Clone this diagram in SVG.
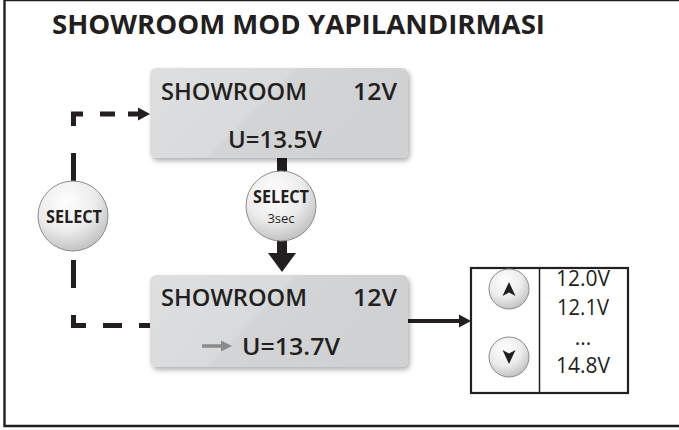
<svg xmlns="http://www.w3.org/2000/svg" width="679" height="430" viewBox="0 0 679 430">
<defs>
<linearGradient id="lcd" x1="0" y1="0" x2="1" y2="0.35">
<stop offset="0" stop-color="#dedfe0"/>
<stop offset="0.5" stop-color="#d9dadb"/>
<stop offset="0.52" stop-color="#d3d4d6"/>
<stop offset="1" stop-color="#d0d1d3"/>
</linearGradient>
<radialGradient id="btn" cx="0.4" cy="0.3" r="0.75">
<stop offset="0" stop-color="#ffffff"/>
<stop offset="0.55" stop-color="#ececec"/>
<stop offset="1" stop-color="#bdbdbd"/>
</radialGradient>
<filter id="sh" x="-10%" y="-10%" width="125%" height="135%">
<feDropShadow dx="2" dy="3" stdDeviation="2.5" flood-color="#000" flood-opacity="0.3"/>
</filter>
</defs>
<style>
.t{font-family:"Open Sans","Noto Sans","DejaVu Sans",sans-serif;fill:#231f20}
.s{font-weight:600}
.b{font-weight:bold}
.lcd{fill:url(#lcd);filter:url(#sh)}
.btn{fill:url(#btn);stroke:#8c8c8c;stroke-width:1}
.dash{fill:none;stroke:#231f20;stroke-width:5}
</style>
<path d="M681 0 H4.5 V426 H681" fill="none" stroke="#231f20" stroke-width="2.4"/>
<text class="t b" x="52" y="34" font-size="26" textLength="493" lengthAdjust="spacingAndGlyphs">SHOWROOM MOD YAPILANDIRMASI</text>

<g id="connectors">
<path class="dash" d="M73.5 126 V114 H83"/>
<path class="dash" d="M100 114 H115"/>
<path class="dash" d="M128 114 H140"/>
<path d="M138 107.5 L150 114 L138 120.5 Z" fill="#231f20"/>
<path class="dash" d="M73.5 153 V181"/>
<path class="dash" d="M73.5 260 V288"/>
<path class="dash" d="M73.5 315 V325.5 H86"/>
<path class="dash" d="M103 325.5 H122"/>
<path class="dash" d="M139 325.5 H150"/>
<rect x="277" y="156" width="10" height="18" fill="#231f20"/>
<rect x="277" y="238" width="10" height="16" fill="#231f20"/>
<path d="M268 253 H296 L282 272 Z" fill="#231f20"/>
<path d="M408 321 H462" stroke="#231f20" stroke-width="4"/>
<path d="M459 314.5 L471 321 L459 327.5 Z" fill="#231f20"/>
</g>

<g id="lcd-top">
<rect class="lcd" x="150" y="68" width="258" height="90" rx="6"/>
<text class="t s" x="161" y="100" font-size="23" textLength="146" lengthAdjust="spacingAndGlyphs">SHOWROOM</text>
<text class="t s" x="353" y="100" font-size="23" textLength="44" lengthAdjust="spacingAndGlyphs">12V</text>
<text class="t s" x="228" y="148" font-size="24" textLength="94" lengthAdjust="spacingAndGlyphs">U=13.5V</text>
</g>

<g id="select-3sec">
<circle class="btn" cx="281" cy="206" r="35"/>
<text class="t b" x="281" y="203" font-size="18" text-anchor="middle" textLength="56" lengthAdjust="spacingAndGlyphs">SELECT</text>
<text class="t" x="281" y="223" font-size="13" text-anchor="middle">3sec</text>
</g>

<g id="select">
<circle class="btn" cx="73" cy="216" r="35"/>
<text class="t b" x="74" y="223" font-size="18" text-anchor="middle" textLength="56" lengthAdjust="spacingAndGlyphs">SELECT</text>
</g>

<g id="lcd-bottom">
<rect class="lcd" x="150" y="275" width="258" height="92" rx="6"/>
<text class="t s" x="161" y="306" font-size="23" textLength="146" lengthAdjust="spacingAndGlyphs">SHOWROOM</text>
<text class="t s" x="353" y="306" font-size="23" textLength="44" lengthAdjust="spacingAndGlyphs">12V</text>
<path d="M202 346 H223" stroke="#8a8a8a" stroke-width="3.5"/>
<path d="M221 340.5 L232 346 L221 351.5 Z" fill="#8a8a8a"/>
<text class="t s" x="242" y="355" font-size="24" textLength="98" lengthAdjust="spacingAndGlyphs">U=13.7V</text>
</g>

<g id="value-panel">
<rect x="471" y="268" width="157" height="125" fill="#fff" stroke="#231f20" stroke-width="2.2"/>
<path d="M539.5 268 V393" stroke="#231f20" stroke-width="1.5"/>
<circle class="btn" cx="509" cy="289" r="20"/>
<path d="M509 282 L515.5 296 L509 292.5 L502.5 296 Z" fill="#231f20"/>
<circle class="btn" cx="509" cy="357" r="20"/>
<path d="M509 364 L515.5 350 L509 353.5 L502.5 350 Z" fill="#231f20"/>
<text class="t" x="583" y="286" font-size="21" text-anchor="middle" textLength="54" lengthAdjust="spacingAndGlyphs">12.0V</text>
<text class="t" x="583" y="315" font-size="21" text-anchor="middle" textLength="52" lengthAdjust="spacingAndGlyphs">12.1V</text>
<text class="t" x="583" y="345" font-size="21" text-anchor="middle">...</text>
<text class="t" x="583" y="373" font-size="21" text-anchor="middle" textLength="54" lengthAdjust="spacingAndGlyphs">14.8V</text>
</g>
</svg>
